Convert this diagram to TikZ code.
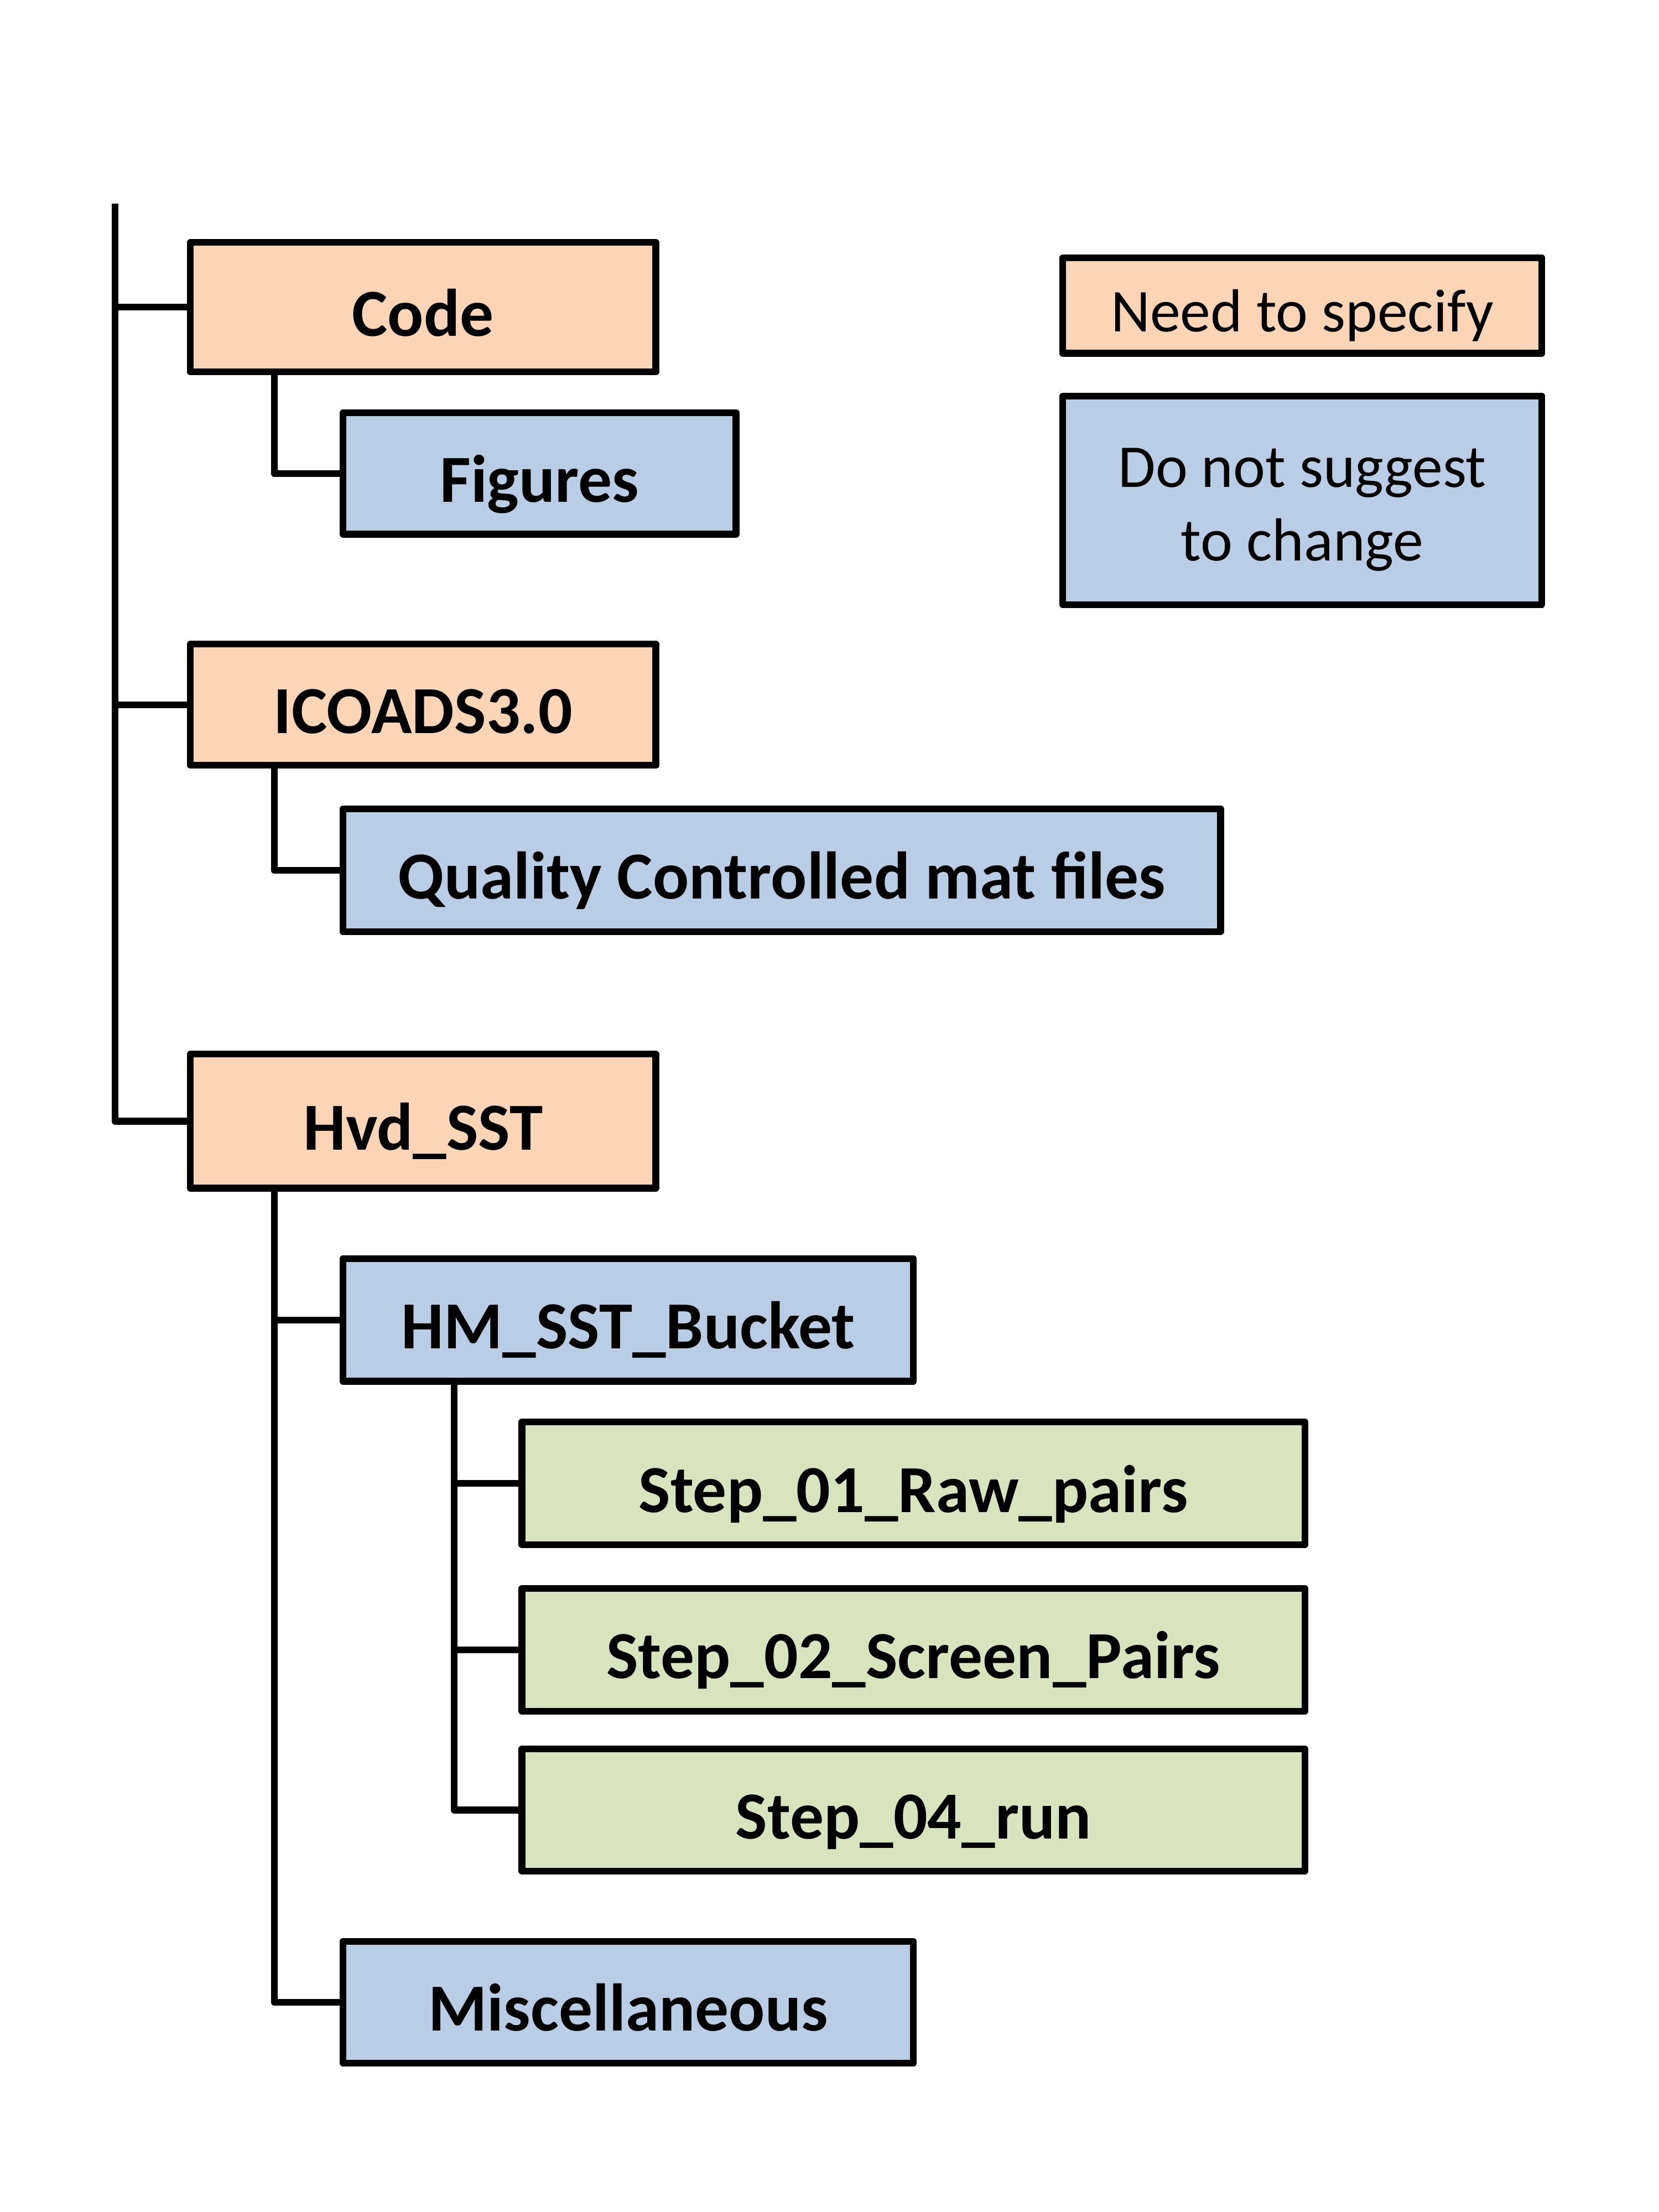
\documentclass[tikz,border=0pt]{standalone}
\usepackage{fontspec}
\setmainfont{Carlito}
\definecolor{peach}{HTML}{FBD5B5}
\definecolor{steel}{HTML}{B9CDE5}
\definecolor{olive}{HTML}{D7E4BD}
\begin{document}
\begin{tikzpicture}[line width=2.7pt, line join=round,
        folder/.style={draw, inner sep=0pt, text height=0.81cm, text depth=0cm, font=\fontsize{27}{32}\selectfont\bfseries},
        legend/.style={draw, inner sep=0pt, align=center, text depth=0cm, font=\fontsize{24.4}{29.6}\selectfont},
        orangebox/.style={folder, fill=peach},
        bluebox/.style={folder, fill=steel},
        greenbox/.style={folder, fill=olive}]
        \path[use as bounding box] (0,0) rectangle (23.4,-31.2);

        \coordinate (TR) at (1.621,-2.875);
        \coordinate (SU) at (3.869,0);
        \coordinate (SS) at (6.409,0);

        \node[orangebox, minimum width=6.566cm, minimum height=1.826cm] (CO) at (5.968,-4.334) {Code};
        \node[bluebox, minimum width=5.544cm, minimum height=1.71cm] (FI) at (7.611,-6.679) {Figures};

        \node[orangebox, minimum width=6.566cm, minimum height=1.71cm] (IC) at (5.968,-9.939) {ICOADS3.0};
        \node[bluebox, minimum width=12.379cm, minimum height=1.73cm] (QC) at (11.029,-12.275) {Quality Controlled mat files};

        \node[orangebox, minimum width=6.566cm, minimum height=1.889cm] (HV) at (5.968,-15.814) {Hvd\_SST};
        \node[bluebox, minimum width=8.048cm, minimum height=1.73cm] (HM) at (8.863,-18.617) {HM\_SST\_Bucket};
        \node[greenbox, minimum width=11.046cm, minimum height=1.73cm] (SA) at (12.886,-20.923) {Step\_01\_Raw\_pairs};
        \node[greenbox, minimum width=11.046cm, minimum height=1.73cm] (SB) at (12.886,-23.269) {Step\_02\_Screen\_Pairs};
        \node[greenbox, minimum width=11.046cm, minimum height=1.72cm] (SC) at (12.886,-25.53) {Step\_04\_run};
        \node[bluebox, minimum width=8.048cm, minimum height=1.717cm] (MI) at (8.863,-28.241) {Miscellaneous};

        \node[legend, fill=peach, text height=0.735cm, minimum width=6.758cm, minimum height=1.345cm] (LA) at (18.372,-4.31) {Need to specify};
        \node[legend, fill=steel, text height=1.71cm, minimum width=6.758cm, minimum height=2.942cm] (LB) at (18.372,-7.056) {Do not suggest\\to change};

        \draw (TR) |- (HV.west);
        \draw (CO.west -| TR) -- (CO.west);
        \draw (IC.west -| TR) -- (IC.west);

        \draw (CO.south -| SU) |- (FI.west);
        \draw (IC.south -| SU) |- (QC.west);
        \draw (HV.south -| SU) |- (MI.west);
        \draw (HM.west -| SU) -- (HM.west);

        \draw (HM.south -| SS) |- (SC.west);
        \draw (SA.west -| SS) -- (SA.west);
        \draw (SB.west -| SS) -- (SB.west);
    \end{tikzpicture}
\end{document}
